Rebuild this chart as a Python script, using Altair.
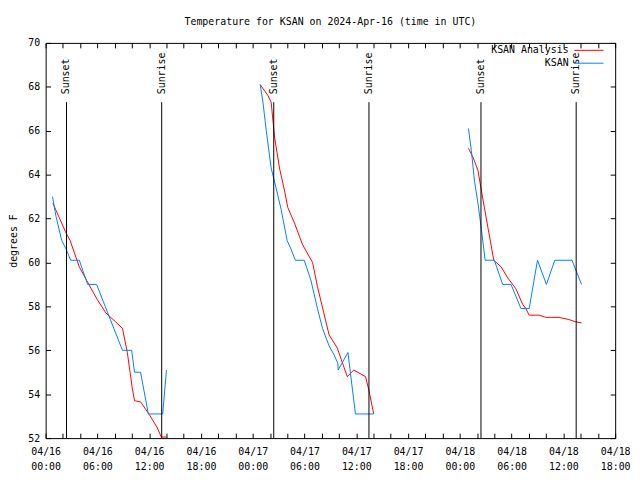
import altair as alt
import pandas as pd

# KSAN observations (blue)
ksan_time = [
    "04-16 00:48", "04-16 01:12", "04-16 01:52", "04-16 02:23", "04-16 02:54", "04-16 03:54",
    "04-16 04:52", "04-16 05:54", "04-16 06:54", "04-16 07:54", "04-16 08:54", "04-16 09:58",
    "04-16 10:18", "04-16 11:00", "04-16 11:54", "04-16 12:54", "04-16 13:34", "04-16 14:00",
    "04-17 00:52", "04-17 01:11", "04-17 01:34", "04-17 02:08", "04-17 02:42", "04-17 03:18",
    "04-17 03:59", "04-17 04:27", "04-17 04:56", "04-17 05:58", "04-17 06:44", "04-17 07:30",
    "04-17 08:05", "04-17 08:51", "04-17 09:25", "04-17 09:52", "04-17 09:54", "04-17 11:02",
    "04-17 11:54", "04-17 14:00",
    "04-18 01:00", "04-18 01:20", "04-18 01:42", "04-18 02:06", "04-18 02:30", "04-18 02:56",
    "04-18 04:00", "04-18 04:58", "04-18 05:56", "04-18 07:05", "04-18 08:02", "04-18 09:00",
    "04-18 10:02", "04-18 11:00", "04-18 13:00", "04-18 14:06",
]
ksan_temp = [
    63.0, 62.1, 61.0, 60.6, 60.1, 60.1,
    59.0, 59.0, 58.0, 57.0, 56.0, 56.0,
    55.0, 55.0, 53.1, 53.1, 53.1, 55.1,
    68.1, 67.3, 66.0, 64.3, 63.4, 62.4,
    61.0, 60.6, 60.1, 60.1, 59.2, 57.9,
    57.0, 56.2, 55.8, 55.4, 55.1, 55.9,
    53.1, 53.1,
    66.1, 65.1, 63.7, 62.7, 61.5, 60.1,
    60.1, 59.0, 59.0, 57.9, 57.9, 60.1,
    59.0, 60.1, 60.1, 59.0,
]

# KSAN Analysis (red)
ana_time = [
    "04-16 00:50", "04-16 02:18", "04-16 02:50", "04-16 03:54", "04-16 04:52", "04-16 06:00",
    "04-16 06:59", "04-16 08:06", "04-16 08:54", "04-16 09:28", "04-16 10:02", "04-16 10:18",
    "04-16 11:00", "04-16 11:58", "04-16 12:54", "04-16 13:24", "04-16 14:04",
    "04-17 00:52", "04-17 01:46", "04-17 02:08", "04-17 02:32", "04-17 03:06", "04-17 03:40",
    "04-17 04:04", "04-17 04:50", "04-17 05:47", "04-17 06:56", "04-17 07:30", "04-17 08:51",
    "04-17 09:48", "04-17 10:57", "04-17 11:43", "04-17 13:04", "04-17 13:27", "04-17 14:01",
    "04-18 01:00", "04-18 01:31", "04-18 02:06", "04-18 02:29", "04-18 03:15", "04-18 03:56",
    "04-18 04:47", "04-18 05:33", "04-18 06:30", "04-18 07:16", "04-18 07:39", "04-18 08:02",
    "04-18 09:11", "04-18 09:57", "04-18 11:29", "04-18 12:38", "04-18 13:24", "04-18 14:06",
]
ana_temp = [
    62.7, 61.4, 61.0, 59.8, 59.1, 58.3,
    57.7, 57.3, 57.0, 55.9, 54.3, 53.7,
    53.65, 53.1, 52.5, 52.05, 52.05,
    68.1, 67.6, 67.3, 65.7, 64.3, 63.3,
    62.5, 61.8, 60.8, 60.0, 58.9, 56.7,
    56.1, 54.8, 55.1, 54.8, 54.2, 53.1,
    65.2, 64.8, 64.2, 63.3, 61.6, 60.1,
    59.8, 59.3, 58.8, 58.1, 57.9, 57.6,
    57.6, 57.5, 57.5, 57.4, 57.3, 57.25,
]

sun_time = ["04-16 02:25", "04-16 13:27", "04-17 02:26", "04-17 13:28", "04-18 02:27", "04-18 13:29"]
sun_label = ["Sunset", "Sunrise", "Sunset", "Sunrise", "Sunset", "Sunrise"]
sun_top = 67.3

series_names = ["KSAN Analysis", "KSAN"]
series_colors = ["#ff0000", "#0080ff"]


def iso(s):
    return "2024-" + s.replace(" ", "T") + ":00Z"


rows = []
for t, v in zip(ana_time, ana_temp):
    rows.append({"time": iso(t), "temp": v, "series": "KSAN Analysis", "seg": "A" + t[:5]})
for t, v in zip(ksan_time, ksan_temp):
    rows.append({"time": iso(t), "temp": v, "series": "KSAN", "seg": "K" + t[:5]})
df = pd.DataFrame(rows)
sun = pd.DataFrame({"time": [iso(t) for t in sun_time], "label": sun_label})

base_ms = int(pd.Timestamp("2024-04-16T00:00Z").value // 10**6)
H = 3600 * 1000
x_domain = [base_ms, base_ms + 66 * H]
label_vals = [base_ms + h * H for h in range(0, 67, 6)]
tick_vals = [base_ms + h * H for h in range(0, 67, 2)]
y_vals = list(range(52, 71, 2))

W, HT = 575, 399
FONT = "DejaVu Sans Mono"

xs = alt.Scale(type="utc", domain=x_domain)
ys = alt.Scale(domain=[52, 70], nice=False, zero=False)

lines = alt.Chart(df).mark_line(strokeWidth=1, clip=True).encode(
    x=alt.X("time:T", scale=xs, axis=alt.Axis(
        values=label_vals, tickSize=0, domain=False, grid=False, title=None,
        labelExpr="[utcFormat(datum.value, '%m/%d'), utcFormat(datum.value, '%H:%M')]",
        labelFlush=False, labelOverlap=False, labelPadding=9, labelLineHeight=15,
        labelBaseline="top", orient="bottom")),
    y=alt.Y("temp:Q", scale=ys, axis=alt.Axis(
        values=y_vals, tickSize=0, domain=False, grid=False, title="degrees F",
        labelPadding=6, titlePadding=9, titleFontWeight="normal", orient="left")),
    color=alt.Color("series:N", scale=alt.Scale(domain=series_names, range=series_colors),
                    legend=alt.Legend(title=None, orient="none", legendX=541, legendY=0,
                                      symbolType="M-2.1,0H2.1", symbolSize=196,
                                      symbolStrokeWidth=1,
                                      labelAlign="right", labelOffset={"expr": "-28"}, padding=0,
                                      rowPadding=0)),
    detail="seg:N",
)

rules = alt.Chart(sun).mark_rule(color="black", strokeWidth=1).encode(
    x=alt.X("time:T", scale=xs, axis=alt.Axis(
        values=tick_vals, tickSize=5, labels=False, domain=False, grid=False, title=None,
        orient="top", offset=-HT)),
    y=alt.Y(datum=52, scale=ys, axis=alt.Axis(
        values=y_vals, tickSize=5, labels=False, domain=False, grid=False, title=None,
        orient="right", offset=-W)),
    y2=alt.Y2(datum=sun_top),
)

texts = alt.Chart(sun).mark_text(angle=270, align="left", baseline="middle", dx=8,
                                 font=FONT, fontSize=10, color="black").encode(
    x=alt.X("time:T", scale=xs, axis=alt.Axis(
        values=tick_vals, tickSize=5, labels=False, domain=False, grid=False, title=None,
        orient="bottom", offset=-HT)),
    y=alt.Y(datum=sun_top, scale=ys, axis=alt.Axis(
        values=y_vals, tickSize=5, labels=False, domain=False, grid=False, title=None,
        orient="left", offset=-W)),
    text="label:N",
)

chart = alt.layer(lines, rules, texts).resolve_axis(
    x="independent", y="independent"
).properties(
    width=W, height=HT,
    title=alt.TitleParams("Temperature for KSAN on 2024-Apr-16 (time in UTC)",
                          font=FONT, fontSize=10, fontWeight="normal", offset=11,
                          anchor="middle", frame="group"),
    autosize=alt.AutoSizeParams(type="none"),
    padding={"left": 38, "top": 33, "right": 17, "bottom": 34},
    background="white",
).configure_view(stroke="black", strokeWidth=1).configure_axis(
    labelFont=FONT, labelFontSize=10, labelColor="black", tickColor="black",
    titleFont=FONT, titleFontSize=10, titleColor="black",
).configure_legend(labelFont=FONT, labelFontSize=10, labelColor="black")

chart.save("out.html", embed_options={"renderer": "svg", "actions": False})
